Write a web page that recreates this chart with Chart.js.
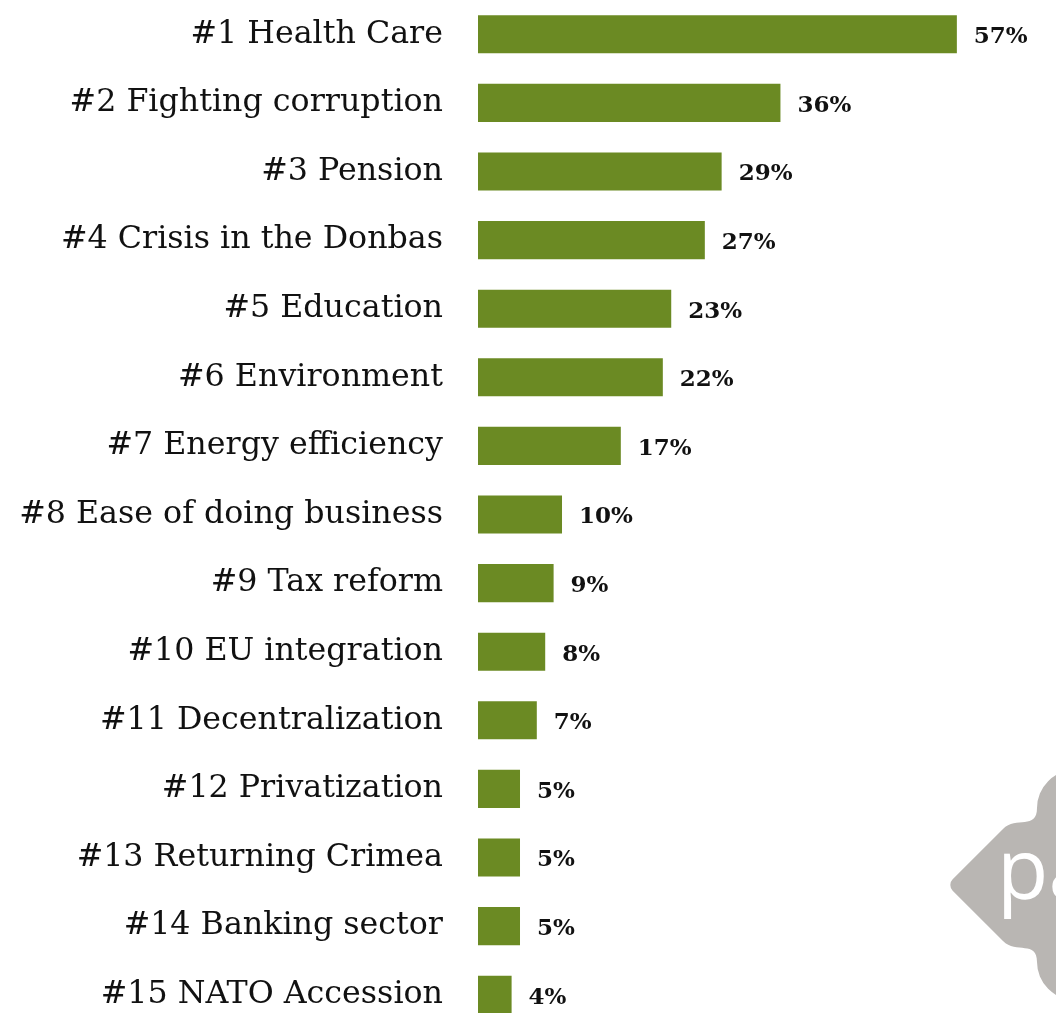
<!DOCTYPE html>
<html>
<head>
<meta charset="utf-8">
<script src="https://cdn.jsdelivr.net/npm/chart.js@4/dist/chart.umd.min.js"></script>
<style>
html,body{margin:0;padding:0;background:#fff;overflow:hidden;}
#wrap{position:relative;width:1056px;height:1029px;}
</style>
</head>
<body>
<div id="wrap"><canvas id="myChart"></canvas></div>
<script>
var categories=['#1 Health Care','#2 Fighting corruption','#3 Pension','#4 Crisis in the Donbas','#5 Education','#6 Environment','#7 Energy efficiency','#8 Ease of doing business','#9 Tax reform','#10 EU integration','#11 Decentralization','#12 Privatization','#13 Returning Crimea','#14 Banking sector','#15 NATO Accession'];
var shares=[57,36,29,27,23,22,17,10,9,8,7,5,5,5,4];

// percentage labels next to each bar
var valueLabels={
    id:'valueLabels',
    afterDatasetsDraw:function(chart){
        var ctx=chart.ctx;
        var meta=chart.getDatasetMeta(0);
        ctx.save();
        ctx.font='bold 23px "DejaVu Serif"';
        ctx.fillStyle='#111';
        ctx.textBaseline='middle';
        ctx.textAlign='left';
        meta.data.forEach(function(bar,i){
            ctx.fillText(shares[i]+'%',bar.x+17,bar.y+3);
        });
        ctx.restore();
    }
};

// grey logo in the corner
var logo={
    id:'logo',
    afterDraw:function(chart){
        var ctx=chart.ctx;
        ctx.save();
        ctx.fillStyle='#b9b6b3';
        ctx.beginPath();
        ctx.moveTo(1003,829);
        ctx.bezierCurveTo(1016,816,1037,830,1037,808);
        ctx.arc(1075,808,38,Math.PI,Math.PI*2);
        ctx.lineTo(1200,808);
        ctx.lineTo(1200,962);
        ctx.lineTo(1113,962);
        ctx.arc(1075,962,38,0,Math.PI);
        ctx.bezierCurveTo(1037,940,1016,954,1003,941);
        ctx.arcTo(947,885,1003,829,8);
        ctx.closePath();
        ctx.fill();
        ctx.fillStyle='#fff';
        ctx.font='84px "Open Sans"';
        ctx.textBaseline='alphabetic';
        ctx.fillText('pa',997,899);
        ctx.restore();
    }
};

new Chart('myChart',{
    type:'bar',
    data:{
        labels:categories,
        datasets:[{
            data:shares,
            backgroundColor:'#6b8a23',
            borderWidth:0,
            barPercentage:0.555,
            categoryPercentage:1
        }]
    },
    options:{
        indexAxis:'y',
        responsive:true,
        maintainAspectRatio:false,
        animation:false,
        layout:{padding:0},
        plugins:{legend:{display:false},tooltip:{enabled:false}},
        scales:{
            x:{display:false,min:0,max:68.8},
            y:{
                grid:{display:false,drawTicks:false},
                border:{display:false},
                ticks:{padding:35,color:'#111',font:{family:'"DejaVu Serif"',size:31.7}},
                afterFit:function(scale){
                    scale.width=478;
                    scale.paddingTop=0;
                    scale.paddingBottom=0;
                }
            }
        }
    },
    plugins:[valueLabels,logo]
});
</script>
</body>
</html>
